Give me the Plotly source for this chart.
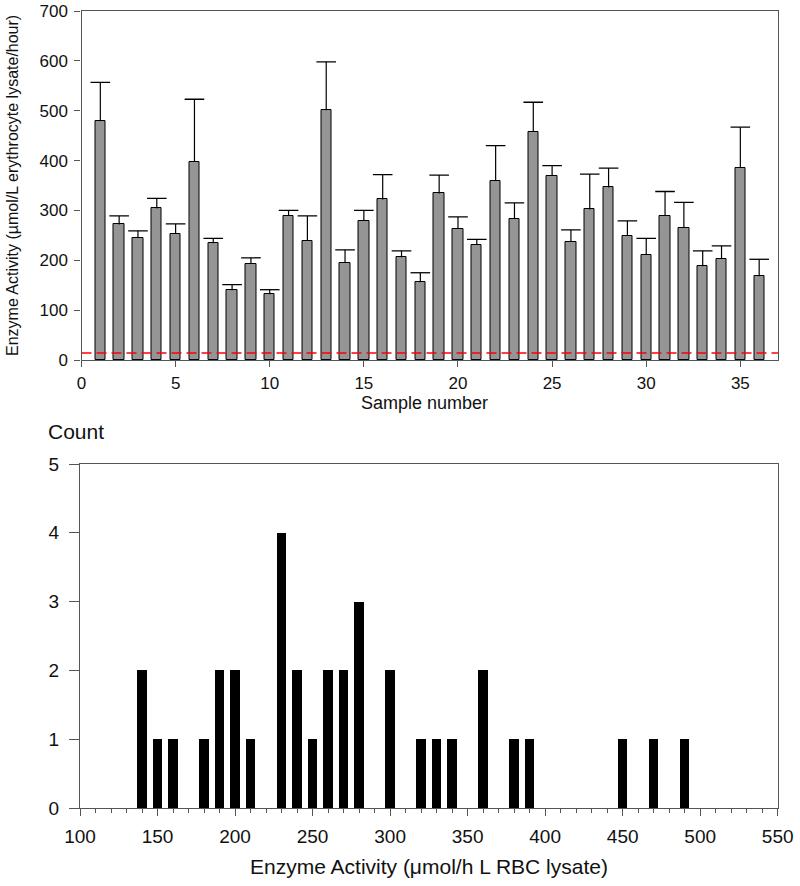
import plotly.graph_objects as go

# ---------------- data ----------------
sample_numbers = list(range(1, 37))
activity_mean = [479, 272, 245, 304, 253, 398, 234, 140, 193, 132,
                 289, 239, 501, 195, 279, 322, 206, 156, 334, 263,
                 231, 360, 283, 458, 370, 237, 302, 346, 249, 211,
                 289, 265, 188, 203, 386, 168]
activity_err = [78, 17, 14, 20, 20, 125, 10, 11, 12, 9,
                11, 50, 97, 26, 21, 50, 13, 19, 37, 24,
                11, 70, 32, 59, 20, 24, 71, 39, 30, 33,
                49, 51, 31, 26, 81, 34]
threshold = 14

hist_bins = [140, 150, 160, 180, 190, 200, 210, 230, 240, 250, 260, 270,
             280, 300, 320, 330, 340, 360, 380, 390, 450, 470, 490]
hist_counts = [2, 1, 1, 1, 2, 2, 1, 4, 2, 1, 2, 2,
               3, 2, 1, 1, 1, 2, 1, 1, 1, 1, 1]

top_xticks = [0, 5, 10, 15, 20, 25, 30, 35]
top_yticks = [0, 100, 200, 300, 400, 500, 600, 700]
bot_xticks = [100, 150, 200, 250, 300, 350, 400, 450, 500, 550]
bot_yticks = [0, 1, 2, 3, 4, 5]

# ---------------- layout helpers ----------------
W, H = 800, 886
FONT = "Arial, Liberation Sans, Helvetica, sans-serif"
AX = "#555555"


def px_x(x):
    return x / W


def px_y(y):
    return (H - y) / H


fig = go.Figure()

# top: bars
fig.add_trace(go.Bar(
    x=sample_numbers, y=activity_mean, width=0.55,
    marker=dict(color="#959595", line=dict(color="black", width=1)),
    xaxis="x", yaxis="y", showlegend=False,
))

# top: one-sided (upper) error bars built from the data
ex, ey = [], []
for s, m, e in zip(sample_numbers, activity_mean, activity_err):
    ex += [s, s, None]
    ey += [m, m + e, None]
fig.add_trace(go.Scatter(
    x=ex, y=ey, mode="lines", line=dict(color="black", width=1.2),
    xaxis="x", yaxis="y", showlegend=False, hoverinfo="skip",
))
fig.add_trace(go.Scatter(
    x=sample_numbers, y=[m + e for m, e in zip(activity_mean, activity_err)],
    mode="markers",
    marker=dict(symbol="line-ew", size=14, line=dict(color="black", width=1.3)),
    xaxis="x", yaxis="y", showlegend=False, hoverinfo="skip",
))

# bottom: histogram counts
fig.add_trace(go.Bar(
    x=hist_bins, y=hist_counts, width=6,
    marker=dict(color="black", line=dict(width=0)),
    xaxis="x2", yaxis="y2", showlegend=False,
))

axis_common = dict(showline=True, linecolor=AX, linewidth=1.3, mirror=True,
                   showgrid=False, zeroline=False, ticks="outside",
                   tickcolor=AX, tickwidth=1.3, automargin=False)

fig.update_layout(
    width=W, height=H,
    margin=dict(l=0, r=0, t=0, b=0, autoexpand=False),
    paper_bgcolor="white", plot_bgcolor="white",
    font=dict(family=FONT, color="#111111"),
    bargap=0,
    xaxis=dict(domain=[px_x(81.5), px_x(778)], range=[0, 37], anchor="y",
               tickvals=top_xticks, ticklen=6, ticklabelstandoff=1,
               tickfont=dict(size=17), **axis_common),
    yaxis=dict(domain=[px_y(360), px_y(11)], range=[0, 700], anchor="x",
               tickvals=top_yticks, ticklen=6, ticklabelstandoff=3,
               tickfont=dict(size=17), **axis_common),
    xaxis2=dict(domain=[px_x(80), px_x(777.7)], range=[100, 550], anchor="y2",
                tickvals=bot_xticks, ticklen=7, ticklabelstandoff=4,
                minor=dict(dtick=10, ticks="outside", ticklen=3.5,
                           tickcolor=AX, tickwidth=1.2),
                tickfont=dict(size=19), **axis_common),
    yaxis2=dict(domain=[px_y(808), px_y(464)], range=[0, 5], anchor="x2",
                tickvals=bot_yticks, ticklen=10, ticklabelstandoff=6,
                tickfont=dict(size=19), **axis_common),
    shapes=[dict(type="line", xref="x domain", yref="y",
                 x0=0, x1=1, y0=threshold, y1=threshold,
                 line=dict(color="red", width=1.6, dash="10px,5px"))],
    annotations=[
        dict(text="Enzyme Activity (µmol/L erythrocyte lysate/hour)",
             textangle=-90, xref="paper", yref="paper",
             x=px_x(12), y=px_y(186), xanchor="center", yanchor="middle",
             showarrow=False, font=dict(size=16)),
        dict(text="Sample number", xref="paper", yref="paper",
             x=px_x(424), y=px_y(403), xanchor="center", yanchor="middle",
             showarrow=False, font=dict(size=18)),
        dict(text="Count", xref="paper", yref="paper",
             x=px_x(46), y=px_y(432), xanchor="left", yanchor="middle",
             showarrow=False, font=dict(size=21)),
        dict(text="Enzyme Activity (μmol/h L RBC lysate)", xref="paper", yref="paper",
             x=px_x(429), y=px_y(866), xanchor="center", yanchor="middle",
             showarrow=False, font=dict(size=21)),
    ],
)

fig.write_html(
    "out.html",
    config={"displayModeBar": False},
    post_script="document.body.style.margin='0';document.body.style.overflow='hidden';",
)
